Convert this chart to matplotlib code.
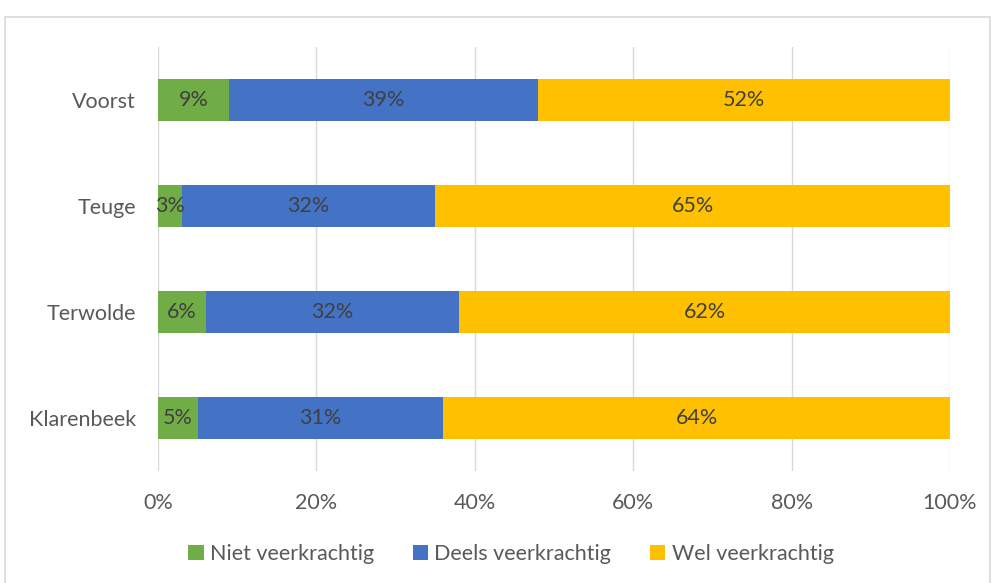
import matplotlib.pyplot as plt
from matplotlib.patches import Rectangle
import numpy as np

plt.rcParams['font.family'] = ['Lato', 'DejaVu Sans']

categories = ['Voorst', 'Teuge', 'Terwolde', 'Klarenbeek']
niet = [9, 3, 6, 5]
deels = [39, 32, 32, 31]
wel = [52, 65, 62, 64]
series_names = ['Niet veerkrachtig', 'Deels veerkrachtig', 'Wel veerkrachtig']
colors = ['#70AD47', '#4472C4', '#FFC000']
xticks = [0, 20, 40, 60, 80, 100]
xticklabels = ['0%', '20%', '40%', '60%', '80%', '100%']

W, H = 992, 583
fig = plt.figure(figsize=(W/100, H/100), dpi=100)
fig.patches.append(Rectangle((5/W, -0.01), 985/W, 1 - 17/H + 0.01, transform=fig.transFigure,
                             fill=False, edgecolor='#D9D9D9', linewidth=1.2))
ax = fig.add_axes([158/W, 1 - 471/H, 792/W, 424/H])

fs = 15.5
y = np.arange(len(categories))
left = np.zeros(len(categories))
tc = '#404040'
for vals, name, c in zip([niet, deels, wel], series_names, colors):
    vals = np.array(vals, dtype=float)
    ax.barh(y, vals, left=left, height=0.4, color=c, label=name, zorder=3)
    for yi, l, v in zip(y, left, vals):
        ax.text(l + v/2, yi, f'{int(v)}%', ha='center', va='center', fontsize=fs, color=tc, zorder=4)
    left += vals

ax.set_xlim(0, 100)
ax.set_ylim(len(categories) - 0.5, -0.5)
ax.set_xticks(xticks)
ax.set_xticklabels(xticklabels)
ax.set_yticks(y)
ax.set_yticklabels(categories)
ax.tick_params(axis='both', length=0, labelsize=fs, labelcolor='#595959')
ax.tick_params(axis='x', pad=16)
ax.tick_params(axis='y', pad=16)
ax.grid(axis='x', color='#D9D9D9', linewidth=1, zorder=0)
for s in ax.spines.values():
    s.set_visible(False)

handles, labels = ax.get_legend_handles_labels()
fig.legend(handles, labels, loc='center', bbox_to_anchor=(511/W, 1 - 554/H), ncol=3, frameon=False,
           fontsize=fs, handlelength=0.7, handleheight=0.7, handletextpad=0.3, columnspacing=1.8,
           labelcolor='#595959')

fig.savefig('out.png', dpi=100)
